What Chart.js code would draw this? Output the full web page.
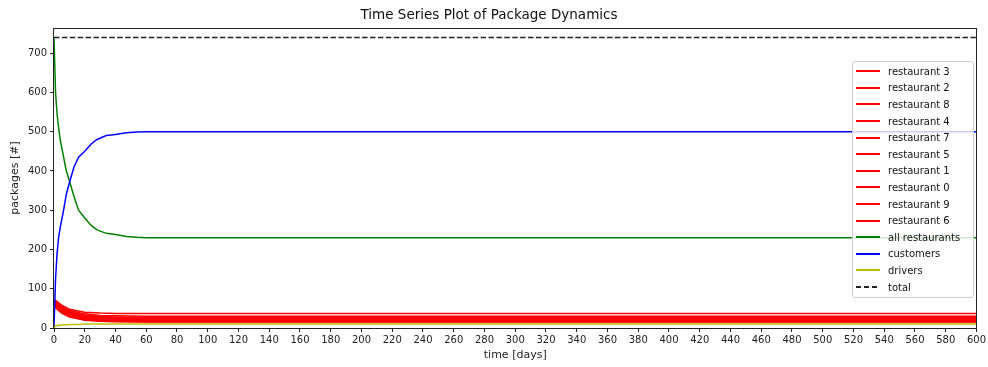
<!DOCTYPE html>
<html>
<head>
<meta charset="utf-8">
<script src="https://cdn.jsdelivr.net/npm/chart.js@4/dist/chart.umd.min.js"></script>
<style>
  body { margin: 0; background: #fff; font-family: "DejaVu Sans", sans-serif; }
  #wrap { position: relative; width: 988px; height: 367px; }
  #legend {
    position: absolute; left: 852px; top: 61px; width: 120px;
    border: 1px solid #ccc; border-radius: 3px;
    background: rgba(255,255,255,0.8); padding: 1px 0 2px 0;
    font-size: 10px; color: #111;
  }
  .row { height: 16.6px; display: flex; align-items: center; }
  .handle { width: 24px; height: 2px; margin-left: 3px; margin-right: 8px; }
</style>
</head>
<body>
<div id="wrap">
  <canvas id="chart" width="988" height="367"></canvas>
  <div id="legend"></div>
</div>
<script>
// time points (days)
const days = [0, 1, 2, 3, 4, 6, 8, 10, 13, 16, 20, 24, 28, 34, 40, 47, 54, 60, 600];
const allRestaurants = [740, 600, 545, 510, 480, 440, 400, 375, 335, 300, 280, 262, 250, 241, 238, 233, 231, 230, 230];
const customers = [0, 125, 190, 230, 255, 295, 340, 370, 410, 435, 450, 468, 480, 490, 493, 497, 499, 500, 500];
const drivers = [0, 5, 6, 7, 7, 8, 8, 9, 9, 9, 10, 10, 10, 10, 10, 10, 10, 10, 10];
const totalPackages = 740;

// restaurant curves use their own time points
const restDays = [0, 2, 5, 10, 15, 20, 30, 40, 60, 600];
const restaurantNames = ["restaurant 3", "restaurant 2", "restaurant 8", "restaurant 4", "restaurant 7",
  "restaurant 5", "restaurant 1", "restaurant 0", "restaurant 9", "restaurant 6"];
const restaurantValues = [
  [72, 68, 58, 48, 44, 40, 38, 37, 37, 37],
  [70, 66, 55, 45, 40, 36, 32, 31, 30, 30],
  [68, 62, 52, 42, 37, 33, 29, 28, 27, 27],
  [66, 60, 50, 40, 35, 31, 27, 26, 25, 25],
  [64, 58, 48, 38, 33, 29, 25, 24, 23, 23],
  [62, 56, 46, 36, 31, 27, 23, 22, 21, 21],
  [60, 54, 44, 34, 29, 25, 21, 20, 19, 19],
  [58, 52, 42, 32, 27, 23, 19, 18, 17, 17],
  [56, 50, 40, 30, 25, 21, 18, 17, 16, 16],
  [55, 48, 38, 28, 24, 20, 17, 16, 15, 15]
];

const xTicksStep = 20;
const yTicksStep = 100;

function pts(xs, ys) {
  return xs.map((x, i) => ({ x: x, y: ys[i] }));
}

function line(label, data, color, dash) {
  return {
    label: label, data: data, borderColor: color, backgroundColor: color,
    borderWidth: 1.5, pointRadius: 0, tension: 0, fill: false,
    borderDash: dash || []
  };
}

const datasets = [];
restaurantNames.forEach((name, i) => {
  datasets.push(line(name, pts(restDays, restaurantValues[i]), "#ff0000"));
});
datasets.push(line("all restaurants", pts(days, allRestaurants), "#008000"));
datasets.push(line("customers", pts(days, customers), "#0000ff"));
datasets.push(line("drivers", pts(days, drivers), "#bfbf00"));
datasets.push(line("total", pts([0, 600], [totalPackages, totalPackages]), "#222", [5.5, 2.4]));

// later datasets drawn on top
datasets.forEach((d, i) => { d.order = datasets.length - i; });

// frame round the plot area
const framePlugin = {
  id: "frame",
  afterDatasetsDraw(chart) {
    const a = chart.chartArea;
    const ctx = chart.ctx;
    ctx.save();
    ctx.strokeStyle = "#222";
    ctx.lineWidth = 1;
    ctx.strokeRect(Math.round(a.left) - 0.5, Math.round(a.top) + 0.5,
      Math.round(a.right - a.left) + 1, Math.round(a.bottom - a.top));
    ctx.restore();
  }
};

Chart.defaults.font.family = "'DejaVu Sans', sans-serif";
Chart.defaults.color = "#222";

new Chart(document.getElementById("chart"), {
  type: "line",
  data: { datasets: datasets },
  options: {
    responsive: false,
    animation: false,
    layout: { padding: { left: 0, right: 10, top: 0, bottom: 0 } },
    plugins: {
      legend: { display: false },
      tooltip: { enabled: false },
      title: {
        display: true,
        text: "Time Series Plot of Package Dynamics",
        font: { size: 13.5, weight: "normal" },
        color: "#111",
        padding: { top: 7.4, bottom: 4.4 }
      }
    },
    scales: {
      x: {
        type: "linear", min: 0, max: 600,
        ticks: { stepSize: xTicksStep, font: { size: 10 }, padding: 2, maxRotation: 0, autoSkip: false },
        grid: { drawOnChartArea: false, tickLength: 4, color: "#222" },
        border: { display: false },
        title: { display: true, text: "time [days]", font: { size: 11 }, padding: { top: 0, bottom: 5.4 } },
        afterFit(s) { s.height = 39; }
      },
      y: {
        min: 0, max: 764,
        ticks: { stepSize: yTicksStep, font: { size: 10 }, padding: 3 },
        grid: { drawOnChartArea: false, tickLength: 4, color: "#222" },
        border: { display: false },
        title: { display: true, text: "packages [#]", font: { size: 11 }, padding: { top: 8.4, bottom: 0 } },
        afterBuildTicks(s) { s.ticks = s.ticks.filter(t => t.value % yTicksStep === 0); },
        afterFit(s) { s.width = 54; }
      }
    }
  },
  plugins: [framePlugin]
});

// legend drawn as html over the plot, like the original
const legend = document.getElementById("legend");
datasets.forEach(d => {
  const row = document.createElement("div");
  row.className = "row";
  const h = document.createElement("span");
  h.className = "handle";
  if (d.borderDash.length) {
    h.style.background = "repeating-linear-gradient(90deg, " + d.borderColor + " 0 5px, transparent 5px 8px)";
  } else {
    h.style.background = d.borderColor;
  }
  const t = document.createElement("span");
  t.textContent = d.label;
  row.appendChild(h);
  row.appendChild(t);
  legend.appendChild(row);
});
</script>
</body>
</html>
